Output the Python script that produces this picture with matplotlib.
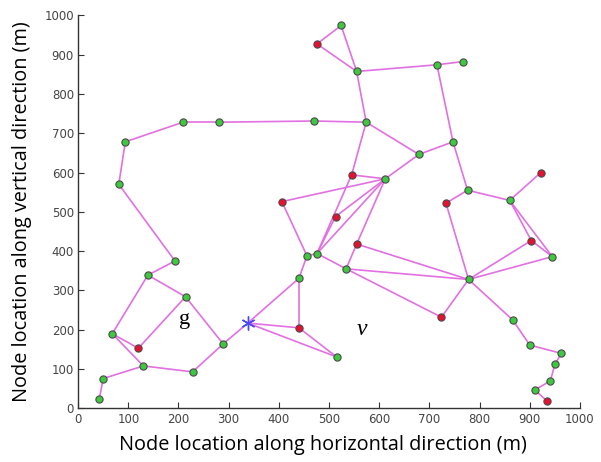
import matplotlib
matplotlib.use("Agg")
import matplotlib.pyplot as plt

# Node coordinates (m)
node_x = [42, 50, 130, 68, 120, 139, 193, 214, 228, 289,
          440, 515, 440, 456, 476, 406, 513, 545, 612, 534,
          555, 724, 778, 866, 900, 963, 950, 941, 910, 935,
          903, 945, 860, 922, 776, 733, 747, 679, 574, 555,
          524, 476, 715, 766, 471, 281, 209, 94, 81]
node_y = [23, 76, 108, 190, 153, 339, 375, 284, 93, 164,
          205, 131, 331, 388, 394, 526, 488, 594, 584, 355,
          418, 232, 328, 225, 161, 140, 112, 70, 47, 18,
          427, 386, 529, 600, 555, 522, 678, 646, 728, 857,
          974, 927, 874, 882, 731, 728, 728, 678, 570]
# 1 = red node, 0 = green node
node_red = [0, 0, 0, 0, 1, 0, 0, 0, 0, 0,
            1, 0, 0, 0, 0, 1, 1, 1, 0, 0,
            1, 1, 0, 0, 0, 0, 0, 0, 0, 1,
            1, 0, 0, 1, 0, 1, 0, 0, 0, 0,
            0, 1, 0, 0, 0, 0, 0, 0, 0]

# Source (star)
src_x = 338
src_y = 217
S = -1

edges = [(0, 1), (1, 2), (2, 3), (2, 8), (3, 4), (4, 7), (3, 5), (5, 6), (5, 7),
         (7, 9), (6, 48), (48, 47), (47, 46), (46, 45), (45, 44), (44, 38),
         (8, 9), (9, S), (S, 10), (S, 11), (10, 11), (S, 12), (12, 10), (12, 13),
         (13, 15), (15, 18), (13, 14), (14, 16), (16, 18), (14, 18), (14, 17),
         (17, 18), (17, 38), (14, 19), (19, 20), (20, 18), (19, 22), (19, 21),
         (20, 22), (21, 22), (22, 23), (23, 24), (24, 25), (25, 26), (26, 27),
         (27, 28), (28, 29), (22, 30), (22, 31), (30, 32), (31, 32), (30, 31),
         (32, 33), (32, 34), (34, 35), (35, 22), (34, 36), (36, 37), (37, 18),
         (37, 38), (36, 42), (42, 43), (42, 39), (39, 38), (39, 40), (40, 41),
         (41, 39)]

x_ticks = [0, 100, 200, 300, 400, 500, 600, 700, 800, 900, 1000]
y_ticks = [0, 100, 200, 300, 400, 500, 600, 700, 800, 900, 1000]


def pt(i):
    if i == S:
        return src_x, src_y
    return node_x[i], node_y[i]


fig = plt.figure(figsize=(6.01, 4.62), dpi=100)
ax = fig.add_axes([0.130, 0.116, 0.835, 0.851])

for a, b in edges:
    xa, ya = pt(a)
    xb, yb = pt(b)
    ax.plot([xa, xb], [ya, yb], color='#e270e2', lw=1.2, zorder=2,
            solid_capstyle='round')

gx = [x for x, r in zip(node_x, node_red) if r == 0]
gy = [y for y, r in zip(node_y, node_red) if r == 0]
rx = [x for x, r in zip(node_x, node_red) if r == 1]
ry = [y for y, r in zip(node_y, node_red) if r == 1]
ax.plot(gx, gy, 'o', ms=5.2, mfc='#3ec83e', mec='#4a4a4a', mew=0.8, zorder=3)
ax.plot(rx, ry, 'o', ms=5.2, mfc='#e8102e', mec='#4a4a4a', mew=0.8, zorder=3)
ax.plot([src_x], [src_y], marker=(6, 2, 0), ms=10, color='#4a4af0',
        mew=1.0, ls='none', zorder=4)

ax.text(212, 225, 'g', fontsize=16, family='Liberation Serif',
        ha='center', va='center', color='black')
ax.text(565, 200, 'v', fontsize=17, family='Liberation Serif', style='italic',
        ha='center', va='center', color='black')

ax.set_xlim(0, 1000)
ax.set_ylim(0, 1000)
ax.set_xticks(x_ticks)
ax.set_yticks(y_ticks)
ax.set_xticklabels([str(t) for t in x_ticks])
ax.set_yticklabels([str(t) for t in y_ticks])
ax.tick_params(direction='in', length=4, width=0.8, colors='#333333',
               labelsize=8.5, labelcolor='#444444', pad=3)
for s in ['top', 'right']:
    ax.spines[s].set_visible(False)
for s in ['left', 'bottom']:
    ax.spines[s].set_color('#333333')
    ax.spines[s].set_linewidth(1.0)

ax.set_xlabel('Node location along horizontal direction (m)', fontsize=14.3,
              family='Open Sans', labelpad=7)
ax.xaxis.label.set_x(0.487)
ax.set_ylabel('Node location along vertical direction (m)', fontsize=14.3,
              family='Open Sans', labelpad=9)

fig.savefig('out.png', dpi=100)
